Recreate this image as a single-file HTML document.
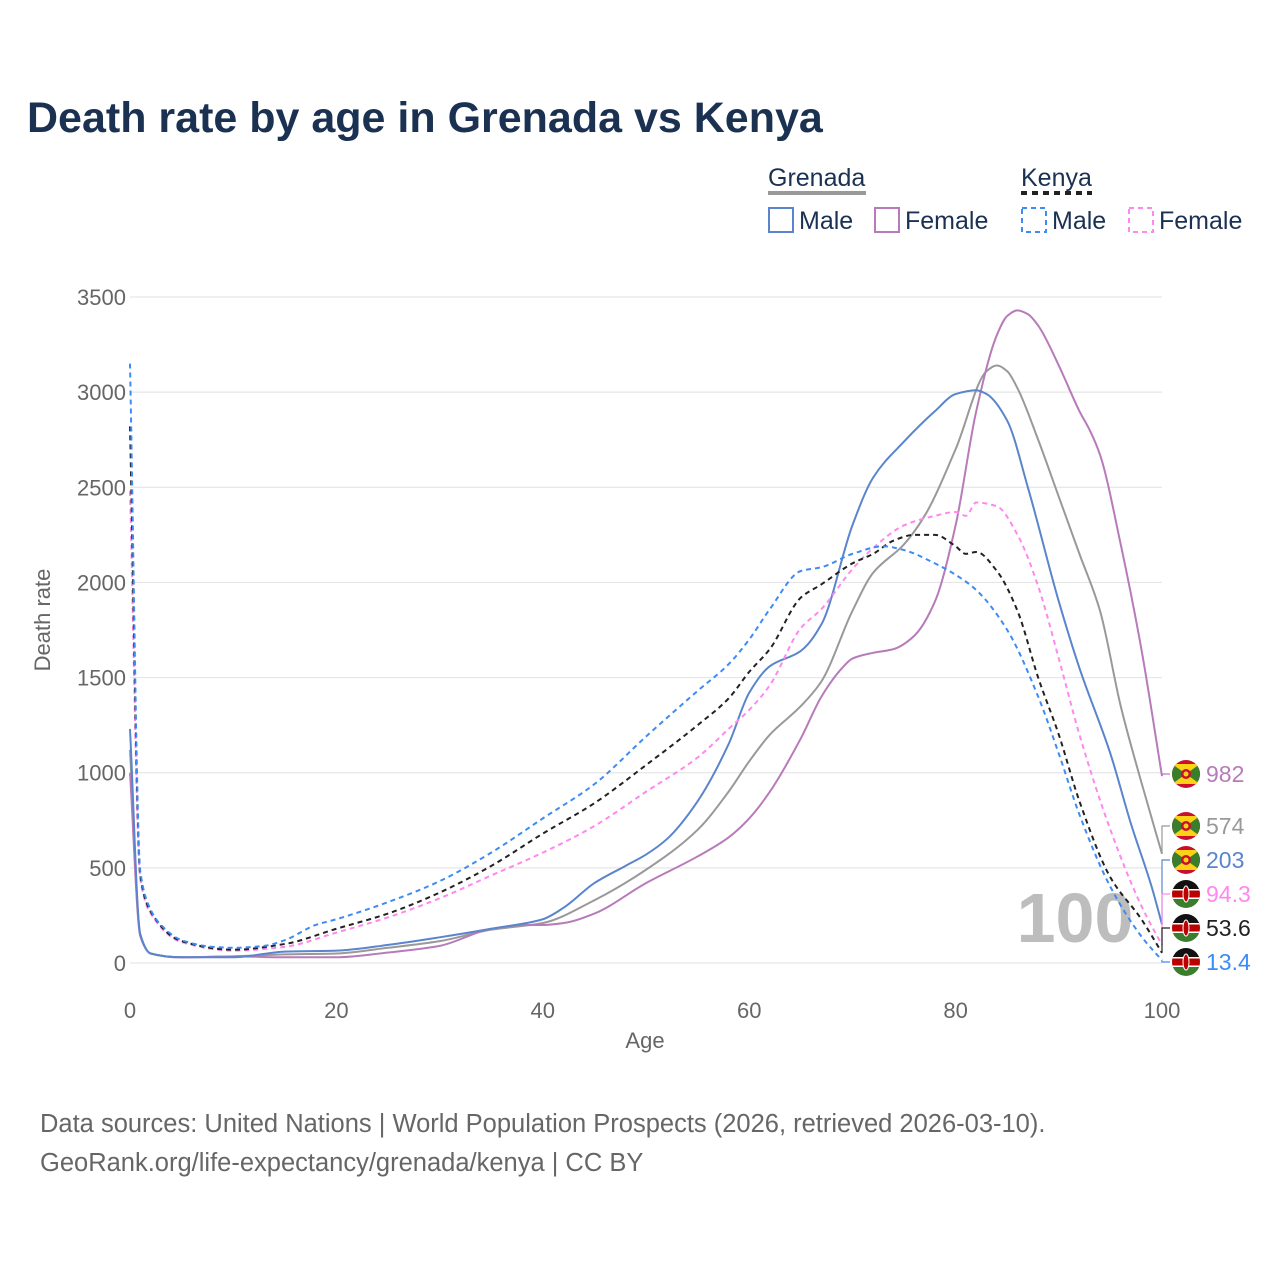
<!DOCTYPE html>
<html><head><meta charset="utf-8">
<style>
body{margin:0;background:#fff;width:1280px;height:1280px;overflow:hidden;font-family:"Liberation Sans",sans-serif}
svg{position:absolute;left:0;top:0}
</style></head>
<body>
<svg id="chart" width="1280" height="1280" viewBox="0 0 1280 1280">
<text x="27" y="132" font-size="43" font-weight="bold" fill="#1b3152">Death rate by age in Grenada vs Kenya</text>
<g font-size="25" fill="#1b3152">
<text x="768" y="186">Grenada</text>
<line x1="768" y1="193" x2="866" y2="193" stroke="#999" stroke-width="4"/>
<text x="1021" y="186">Kenya</text>
<line x1="1021" y1="193" x2="1092" y2="193" stroke="#222" stroke-width="4" stroke-dasharray="6,5"/>
<g><rect x="769" y="208" width="24" height="24" fill="none" stroke="#5a85cc" stroke-width="2"/><text x="799" y="229">Male</text></g>
<g><rect x="875" y="208" width="24" height="24" fill="none" stroke="#b77bb9" stroke-width="2"/><text x="905" y="229">Female</text></g>
<g><rect x="1022" y="208" width="24" height="24" fill="none" stroke="#3d8bf5" stroke-width="2" stroke-dasharray="5,4"/><text x="1052" y="229">Male</text></g>
<g><rect x="1129" y="208" width="24" height="24" fill="none" stroke="#ff88ee" stroke-width="2" stroke-dasharray="5,4"/><text x="1159" y="229">Female</text></g>
</g>
<g id="grid"></g>
<g id="axes"></g>
<text x="1075" y="942" font-size="70" font-weight="bold" fill="#bdbdbd" text-anchor="middle">100</text>
<g id="series"></g>
<g id="labels"></g>
<text x="645" y="1048" font-size="22" fill="#666" text-anchor="middle">Age</text>
<text transform="translate(50,620) rotate(-90)" font-size="22" fill="#666" text-anchor="middle">Death rate</text>
<text x="40" y="1132" font-size="25.5" fill="#666">Data sources: United Nations | World Population Prospects (2026, retrieved 2026-03-10).</text>
<text x="40" y="1171" font-size="25.5" fill="#666">GeoRank.org/life-expectancy/grenada/kenya | CC BY</text>
</svg>
<script>
const yTicks=[0,500,1000,1500,2000,2500,3000,3500];
const xTicks=[0,20,40,60,80,100];
const gmAges=[0,1,2,5,10,15,20,25,30,35,40,42,45,48,50,52,55,58,60,62,65,67,70,72,75,78,80,82,83,85,87,90,92,95,97,99,100];
const gmVals=[1230,150,50,30,30,60,65,95,135,180,230,290,420,510,570,650,850,1150,1420,1560,1640,1780,2300,2550,2740,2900,2990,3010,2990,2850,2500,1900,1550,1100,730,400,203];
const gtAges=[0,1,2,5,10,15,20,25,30,35,40,45,50,55,58,60,62,65,67,70,72,75,77,80,83,84,85,86,88,90,92,94,96,98,100];
const gtVals=[1120,150,50,30,35,45,50,80,115,175,210,330,490,700,900,1060,1200,1350,1480,1850,2050,2200,2350,2700,3110,3140,3110,3020,2750,2450,2150,1850,1350,950,574];
const gfAges=[0,1,2,5,10,15,20,25,30,35,38,40,42,45,50,55,58,60,62,65,67,69,70,72,74,76,78,80,82,84,85,86,87,88,90,92,93,94,96,98,100];
const gfVals=[1000,140,50,30,35,30,30,55,90,180,200,200,210,260,420,560,660,760,900,1180,1400,1550,1600,1630,1650,1720,1900,2300,2900,3300,3400,3430,3410,3350,3140,2900,2800,2670,2200,1650,982];
const kmAges=[0,1,2,3,5,8,10,13,15,18,20,25,30,35,40,45,50,55,58,60,62,65,67,70,73,75,78,80,82,85,88,90,92,95,98,100];
const kmVals=[3150,480,280,200,120,85,80,90,120,200,230,320,430,580,760,940,1190,1430,1570,1700,1860,2060,2080,2150,2190,2170,2100,2040,1960,1750,1400,1100,780,400,140,13.4];
const ktAges=[0,1,2,5,10,15,20,25,30,35,40,45,50,55,58,60,62,65,67,70,72,74,76,78,80,81,82,84,86,88,90,92,95,98,100];
const ktVals=[2820,460,270,115,70,100,180,260,370,510,680,840,1040,1250,1390,1530,1650,1920,1990,2100,2150,2220,2250,2250,2190,2150,2160,2060,1850,1500,1200,850,450,230,53.6];
const kfAges=[0,1,2,5,10,15,20,25,30,35,40,45,50,55,58,60,62,65,67,70,72,75,78,80,81,82,84,86,88,90,92,95,98,100];
const kfVals=[2480,440,260,110,65,85,160,240,340,460,580,720,900,1080,1230,1330,1460,1760,1860,2070,2180,2300,2350,2370,2350,2420,2400,2250,1980,1600,1200,700,300,94.3];
const endLabels=["982","574","203","94.3","53.6","13.4"];

const NS="http://www.w3.org/2000/svg";
const X=a=>130+a*10.32, Y=v=>963-v*(666/3500);
function mk(tag,attrs,parent){const e=document.createElementNS(NS,tag);for(const k in attrs)e.setAttribute(k,attrs[k]);parent.appendChild(e);return e;}
const grid=document.getElementById('grid'),axes=document.getElementById('axes'),ser=document.getElementById('series'),lab=document.getElementById('labels');
yTicks.forEach(t=>{
 const l=mk('line',{x1:130,x2:1162,y1:Y(t),y2:Y(t),stroke:'#e6e6e6','stroke-width':1.2},grid);
 
 
 const tx=mk('text',{x:126,y:Y(t)+8,'font-size':22,fill:'#666','text-anchor':'end'},axes);
 tx.textContent=t;
 
 
});
xTicks.forEach(t=>{
 const tx=mk('text',{x:X(t),y:1018,'font-size':22,fill:'#666','text-anchor':'middle'},axes);
 tx.textContent=t;
 
 
});
function pathD(ages,vals){
 const x=ages.map(X), y=vals.map(Y), n=x.length;
 const d=[],m=new Array(n);
 for(let i=0;i<n-1;i++)d.push((y[i+1]-y[i])/(x[i+1]-x[i]));
 m[0]=d[0];m[n-1]=d[n-2];
 for(let i=1;i<n-1;i++){
  if(d[i-1]*d[i]<=0)m[i]=0;
  else{const w1=2*(x[i+1]-x[i])+(x[i]-x[i-1]),w2=(x[i+1]-x[i])+2*(x[i]-x[i-1]);m[i]=(w1+w2)/(w1/d[i-1]+w2/d[i]);}
 }
 let s='M'+x[0]+','+y[0];
 for(let i=0;i<n-1;i++){
  const h=(x[i+1]-x[i])/3;
  s+=' C'+(x[i]+h)+','+(y[i]+m[i]*h)+' '+(x[i+1]-h)+','+(y[i+1]-m[i+1]*h)+' '+x[i+1]+','+y[i+1];
 }
 return s;
}
const S=[
 {n:'grenada-total',a:gtAges,v:gtVals,c:'#999999',d:null,ly:826,flag:'g'},
 {n:'grenada-female',a:gfAges,v:gfVals,c:'#b77bb9',d:null,ly:774,flag:'g'},
 {n:'grenada-male',a:gmAges,v:gmVals,c:'#5a85cc',d:null,ly:860,flag:'g'},
 {n:'kenya-female',a:kfAges,v:kfVals,c:'#ff88ee',d:'5,4',ly:894,flag:'k'},
 {n:'kenya-total',a:ktAges,v:ktVals,c:'#222222',d:'5,4',ly:928,flag:'k'},
 {n:'kenya-male',a:kmAges,v:kmVals,c:'#3d8bf5',d:'5,4',ly:962,flag:'k'}
];
const labelIdx={'grenada-female':0,'grenada-total':1,'grenada-male':2,'kenya-female':3,'kenya-total':4,'kenya-male':5};
S.forEach(s=>{
 const at={d:pathD(s.a,s.v),fill:'none',stroke:s.c,'stroke-width':2};
 if(s.d)at['stroke-dasharray']=s.d;
 const p=mk('path',at,ser);
 
 
 const ey=Y(s.v[s.v.length-1]);
 const c=mk('path',{d:'M1162,'+ey+' L1162,'+s.ly+' L1170,'+s.ly,fill:'none',stroke:s.c,'stroke-width':1.2},lab);
 
 
 const g=mk('g',{},lab);
 
 
 const cx=1186,cy=s.ly,r=14;
 const id='clip-'+s.n;
 const cp=mk('clipPath',{id:id},g);mk('circle',{cx:cx,cy:cy,r:r},cp);
 const fg=mk('g',{'clip-path':'url(#'+id+')'},g);
 if(s.flag==='g'){
  mk('rect',{x:cx-r,y:cy-r,width:2*r,height:2*r,fill:'#c8102e'},fg);
  mk('rect',{x:cx-r,y:cy-r+4,width:2*r,height:2*r-8,fill:'#3a7d2c'},fg);
  mk('polygon',{points:(cx-r)+','+(cy-r+4)+' '+(cx+r)+','+(cy-r+4)+' '+cx+','+cy,fill:'#fcd116'},fg);
  mk('polygon',{points:(cx-r)+','+(cy+r-4)+' '+(cx+r)+','+(cy+r-4)+' '+cx+','+cy,fill:'#fcd116'},fg);
  mk('circle',{cx:cx,cy:cy,r:5,fill:'#c8102e'},fg);
  mk('circle',{cx:cx,cy:cy,r:2.5,fill:'#fcd116'},fg);
 } else {
  mk('rect',{x:cx-r,y:cy-r,width:2*r,height:10,fill:'#111'},fg);
  mk('rect',{x:cx-r,y:cy-4,width:2*r,height:8,fill:'#bb0000'},fg);
  mk('rect',{x:cx-r,y:cy+4,width:2*r,height:10,fill:'#3a7d2c'},fg);
  mk('rect',{x:cx-r,y:cy-5,width:2*r,height:1.5,fill:'#fff'},fg);
  mk('rect',{x:cx-r,y:cy+3.5,width:2*r,height:1.5,fill:'#fff'},fg);
  mk('ellipse',{cx:cx,cy:cy,rx:3,ry:8,fill:'#bb0000',stroke:'#fff','stroke-width':1},fg);
 }
 const t=mk('text',{x:1206,y:s.ly+8,'font-size':23,fill:s.c==='#222222'?'#222':s.c},lab);
 t.textContent=endLabels[labelIdx[s.n]];
 
 
});
</script>
</body></html>
